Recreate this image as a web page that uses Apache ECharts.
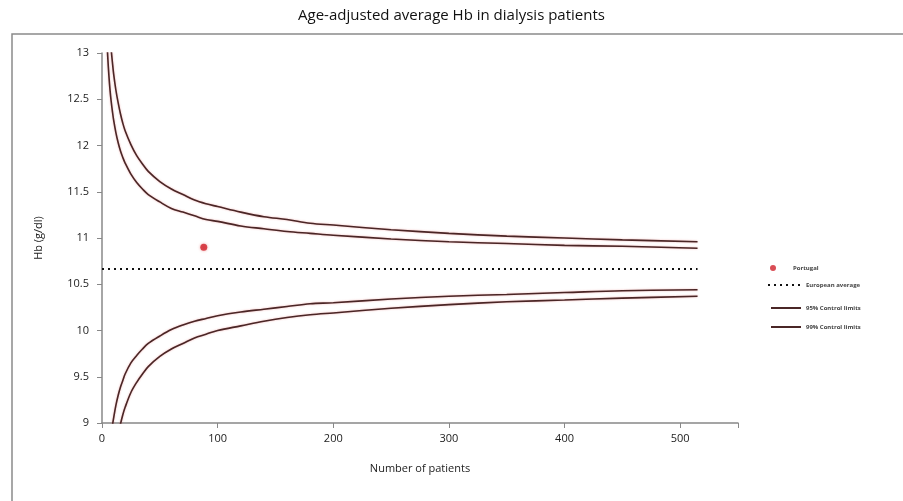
<!DOCTYPE html>
<html>
<head>
<meta charset="utf-8">
<script src="https://cdn.jsdelivr.net/npm/echarts@6/dist/echarts.min.js"></script>
<style>html,body{margin:0;padding:0;background:#fff}#c{width:903px;height:501px}</style>
</head>
<body>
<div id="c"></div>
<script>
// Number of patients (x) at which the control limit curves were read
var patients = [3,4,5,6,7,8,9,10,12,14,16,18,20,25,30,35,40,50,60,70,80,90,100,120,140,160,180,200,250,300,350,400,450,515];
var upper95 = [13.61,13.22,12.95,12.75,12.59,12.47,12.37,12.28,12.14,12.03,11.94,11.87,11.81,11.69,11.60,11.53,11.47,11.39,11.32,11.28,11.24,11.20,11.18,11.13,11.10,11.07,11.05,11.03,10.99,10.96,10.94,10.92,10.91,10.89];
var upper99 = [14.53,14.02,13.66,13.40,13.20,13.03,12.90,12.78,12.60,12.46,12.34,12.24,12.16,12.01,11.89,11.80,11.72,11.61,11.53,11.47,11.41,11.37,11.34,11.28,11.23,11.20,11.16,11.14,11.09,11.05,11.02,11.00,10.98,10.96];
var lower95 = [7.72,8.12,8.38,8.58,8.74,8.86,8.97,9.05,9.19,9.30,9.39,9.46,9.53,9.65,9.73,9.80,9.86,9.94,10.01,10.06,10.10,10.13,10.16,10.20,10.23,10.26,10.29,10.30,10.34,10.37,10.39,10.41,10.43,10.44];
var lower99 = [6.80,7.32,7.67,7.93,8.13,8.30,8.43,8.55,8.73,8.87,8.99,9.09,9.17,9.33,9.44,9.53,9.61,9.72,9.80,9.86,9.92,9.96,10.00,10.05,10.10,10.14,10.17,10.19,10.24,10.28,10.31,10.33,10.35,10.37];
var europeanAverage = 10.665;
var europeanRange = [0, 515];
var portugal = [88, 10.9];
var yTicks = [9, 9.5, 10, 10.5, 11, 11.5, 12, 12.5, 13];
var xTicks = [0, 100, 200, 300, 400, 500];

function pairs(xs, ys){ return xs.map(function(x,i){ return [x, ys[i]]; }); }

var lineColor = '#4a2626';
var font = "'Open Sans', 'Liberation Sans', sans-serif";
var legendText = {fontSize: 6, color: '#444', fontFamily: font, fontWeight: 'bold'};

function limitSeries(name, data){
  return {
    name: name, type: 'line', data: data, showSymbol: false, symbol: 'none', smooth: 0.35,
    lineStyle: {color: lineColor, width: 1.6, shadowColor: 'rgba(220,80,80,0.45)', shadowBlur: 2},
    itemStyle: {color: lineColor},
    silent: true, animation: false, clip: true
  };
}

var chart = echarts.init(document.getElementById('c'), null, {renderer: 'canvas'});
chart.setOption({
  backgroundColor: '#fff',
  animation: false,
  title: {
    text: 'Age-adjusted average Hb in dialysis patients',
    left: 'center', top: 3,
    textStyle: {fontSize: 15, fontWeight: 'normal', color: '#111', fontFamily: font}
  },
  graphic: [{
    type: 'rect', shape: {x: 12, y: 34, width: 900, height: 480},
    style: {fill: 'none', stroke: '#8a8a8a', lineWidth: 1.5}, silent: true, z: -1
  }],
  legend: [
    {data: ['Portugal'], orient: 'vertical', left: 770, top: 265, padding: 0, itemWidth: 30, itemHeight: 6, itemGap: 4, textStyle: legendText},
    {data: ['European average'], orient: 'vertical', left: 767, top: 282, padding: 0, itemWidth: 33, itemHeight: 6, itemGap: 4, textStyle: legendText, itemStyle: {opacity: 0}},
    {data: ['95% Control limits'], orient: 'vertical', left: 770, top: 305, padding: 0, itemWidth: 30, itemHeight: 6, itemGap: 4, textStyle: legendText, itemStyle: {opacity: 0}},
    {data: ['99% Control limits'], orient: 'vertical', left: 770, top: 324, padding: 0, itemWidth: 30, itemHeight: 6, itemGap: 4, textStyle: legendText, itemStyle: {opacity: 0}}
  ],
  grid: {left: 102, top: 53, right: 165, bottom: 78, containLabel: false},
  xAxis: {
    type: 'value', min: 0, max: 550, interval: 100,
    name: 'Number of patients', nameLocation: 'middle', nameGap: 40,
    nameTextStyle: {fontSize: 11, color: '#222', fontFamily: font},
    axisLine: {show: true, lineStyle: {color: '#888', width: 1.5}},
    axisTick: {show: true, inside: false, length: 5, lineStyle: {color: '#888'}},
    axisLabel: {fontSize: 11, color: '#222', fontFamily: font, margin: 10,
      formatter: function(v){ return xTicks.indexOf(v) >= 0 ? String(v) : ''; }},
    splitLine: {show: false}
  },
  yAxis: {
    type: 'value', min: 9, max: 13, interval: 0.5,
    name: 'Hb (g/dl)', nameLocation: 'middle', nameGap: 58, nameRotate: 90,
    nameTextStyle: {fontSize: 11, color: '#222', fontFamily: font},
    axisLine: {show: true, lineStyle: {color: '#888', width: 1.5}},
    axisTick: {show: true, inside: false, length: 5, lineStyle: {color: '#888'}},
    axisLabel: {fontSize: 11, color: '#222', fontFamily: font, margin: 13,
      formatter: function(v){ return yTicks.indexOf(v) >= 0 ? String(v) : ''; }},
    splitLine: {show: false}
  },
  series: [
    {
      name: 'Portugal', type: 'scatter', data: [portugal],
      symbol: 'circle', symbolSize: 7,
      itemStyle: {color: '#d0202a', shadowColor: 'rgba(220,40,40,0.5)', shadowBlur: 3},
      silent: true
    },
    {
      name: 'European average', type: 'line',
      data: [[europeanRange[0], europeanAverage], [europeanRange[1], europeanAverage]],
      showSymbol: false, symbol: 'none',
      lineStyle: {color: '#111', width: 2, type: [2, 4]},
      itemStyle: {color: '#111'}, silent: true
    },
    limitSeries('95% Control limits', pairs(patients, upper95)),
    limitSeries('95% Control limits', pairs(patients, lower95)),
    limitSeries('99% Control limits', pairs(patients, upper99)),
    limitSeries('99% Control limits', pairs(patients, lower99))
  ]
});
</script>
</body>
</html>
